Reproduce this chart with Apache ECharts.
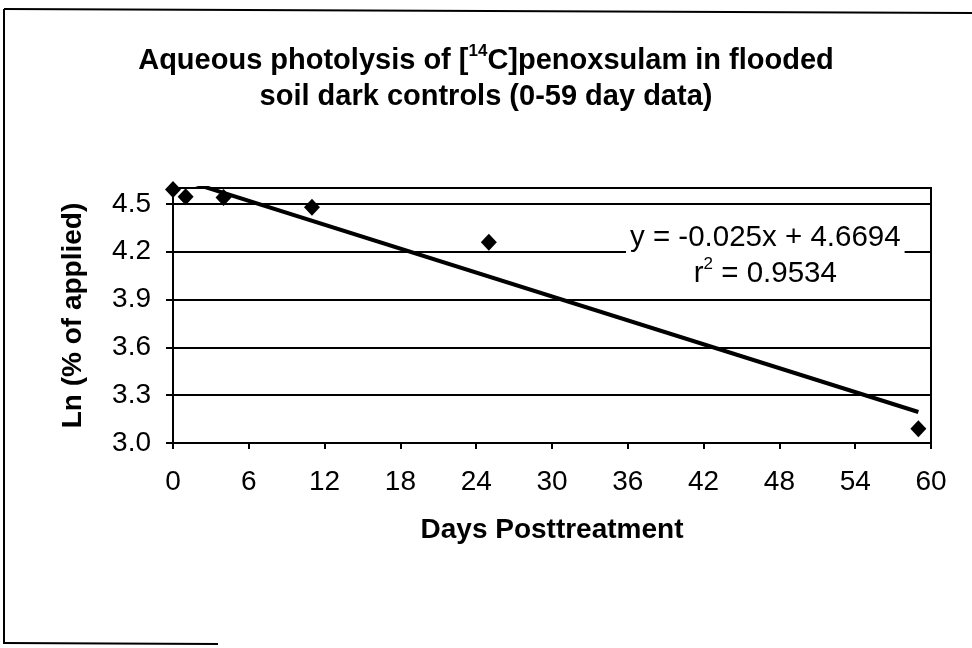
<!DOCTYPE html>
<html>
<head>
<meta charset="utf-8">
<script src="https://cdn.jsdelivr.net/npm/echarts@6/dist/echarts.min.js"></script>
<style>html,body{margin:0;padding:0;background:#fff;}#c{width:972px;height:648px;}</style>
</head>
<body>
<div id="c"></div>
<script>
// Data
const days = [0, 1, 4, 11, 25, 59];
const lnApplied = [4.59, 4.545, 4.54, 4.48, 4.26, 3.09];
const trendSlope = -0.025;
const trendIntercept = 4.6694;
const trendRange = [0, 59];
const xTicks = { min: 0, max: 60, interval: 6 };
const yTicks = { min: 3.0, max: 4.6, interval: 0.3 };

const FONT = '"Liberation Sans", Arial, sans-serif';
const points = days.map((d, i) => [d, lnApplied[i]]);
const trend = trendRange.map(x => [x, trendSlope * x + trendIntercept]);

const chart = echarts.init(document.getElementById('c'), null, { renderer: 'canvas' });
chart.setOption({
  backgroundColor: '#fff',
  animation: false,
  title: {
    left: 'center',
    top: 38,
    text: '{b|Aqueous photolysis of [}{s|14}{b|C]penoxsulam in flooded}\n{b|soil dark controls (0-59 day data)}',
    textStyle: {
      rich: {
        b: { fontFamily: FONT, fontWeight: 'bold', fontSize: 29, color: '#000', lineHeight: 36 },
        s: { fontFamily: FONT, fontWeight: 'bold', fontSize: 17, color: '#000', lineHeight: 36, verticalAlign: 'top', padding: [0, 0, 12, 0] }
      }
    }
  },
  grid: { left: 173, right: 41, top: 188, bottom: 205, show: true, borderColor: '#000', borderWidth: 2 },
  xAxis: {
    type: 'value', min: xTicks.min, max: xTicks.max, interval: xTicks.interval,
    name: 'Days Posttreatment', nameLocation: 'middle', nameGap: 73,
    nameTextStyle: { fontFamily: FONT, fontWeight: 'bold', fontSize: 28, color: '#000' },
    axisLine: { show: true, lineStyle: { color: '#000', width: 2 } },
    axisTick: { show: true, inside: false, length: 6, lineStyle: { color: '#000', width: 2 } },
    axisLabel: { fontFamily: FONT, fontSize: 28, color: '#000', margin: 25 },
    splitLine: { show: false }
  },
  yAxis: {
    type: 'value', min: yTicks.min, max: yTicks.max, interval: yTicks.interval,
    name: 'Ln (% of applied)', nameLocation: 'middle', nameGap: 86, nameRotate: 90,
    nameTextStyle: { fontFamily: FONT, fontWeight: 'bold', fontSize: 28, color: '#000' },
    axisLine: { show: true, lineStyle: { color: '#000', width: 2 } },
    axisTick: { show: true, inside: false, length: 7, lineStyle: { color: '#000', width: 2 } },
    axisLabel: {
      fontFamily: FONT, fontSize: 28, color: '#000', margin: 22, showMaxLabel: false,
      formatter: v => v.toFixed(1)
    },
    splitLine: { show: true, lineStyle: { color: '#000', width: 2 } }
  },
  series: [
    {
      type: 'line', data: trend, showSymbol: false, symbol: 'none', clip: true,
      lineStyle: { color: '#000', width: 4 }, z: 3
    },
    {
      type: 'scatter', data: points, symbol: 'diamond', symbolSize: [16, 17],
      itemStyle: { color: '#000', opacity: 1 }, z: 4
    }
  ],
  graphic: [
    {
      type: 'text', left: 626, top: 218, z: 10,
      style: {
        text: '{t|y = -0.025x + 4.6694}\n{t|r}{s|2}{t| = 0.9534}',
        align: 'center',
        backgroundColor: '#fff',
        padding: [2, 4, 2, 4],
        rich: {
          t: { fontFamily: FONT, fontSize: 29.5, color: '#000', lineHeight: 36, align: 'center' },
          s: { fontFamily: FONT, fontSize: 17, color: '#000', lineHeight: 36, verticalAlign: 'top', padding: [0, 0, 12, 0] }
        }
      }
    },
    { type: 'line', shape: { x1: 4, y1: 9, x2: 972, y2: 13 }, style: { stroke: '#000', lineWidth: 2 } },
    { type: 'line', shape: { x1: 4, y1: 9, x2: 4, y2: 644 }, style: { stroke: '#000', lineWidth: 2 } },
    { type: 'line', shape: { x1: 4, y1: 643, x2: 218, y2: 644 }, style: { stroke: '#000', lineWidth: 2 } }
  ]
});
</script>
</body>
</html>
